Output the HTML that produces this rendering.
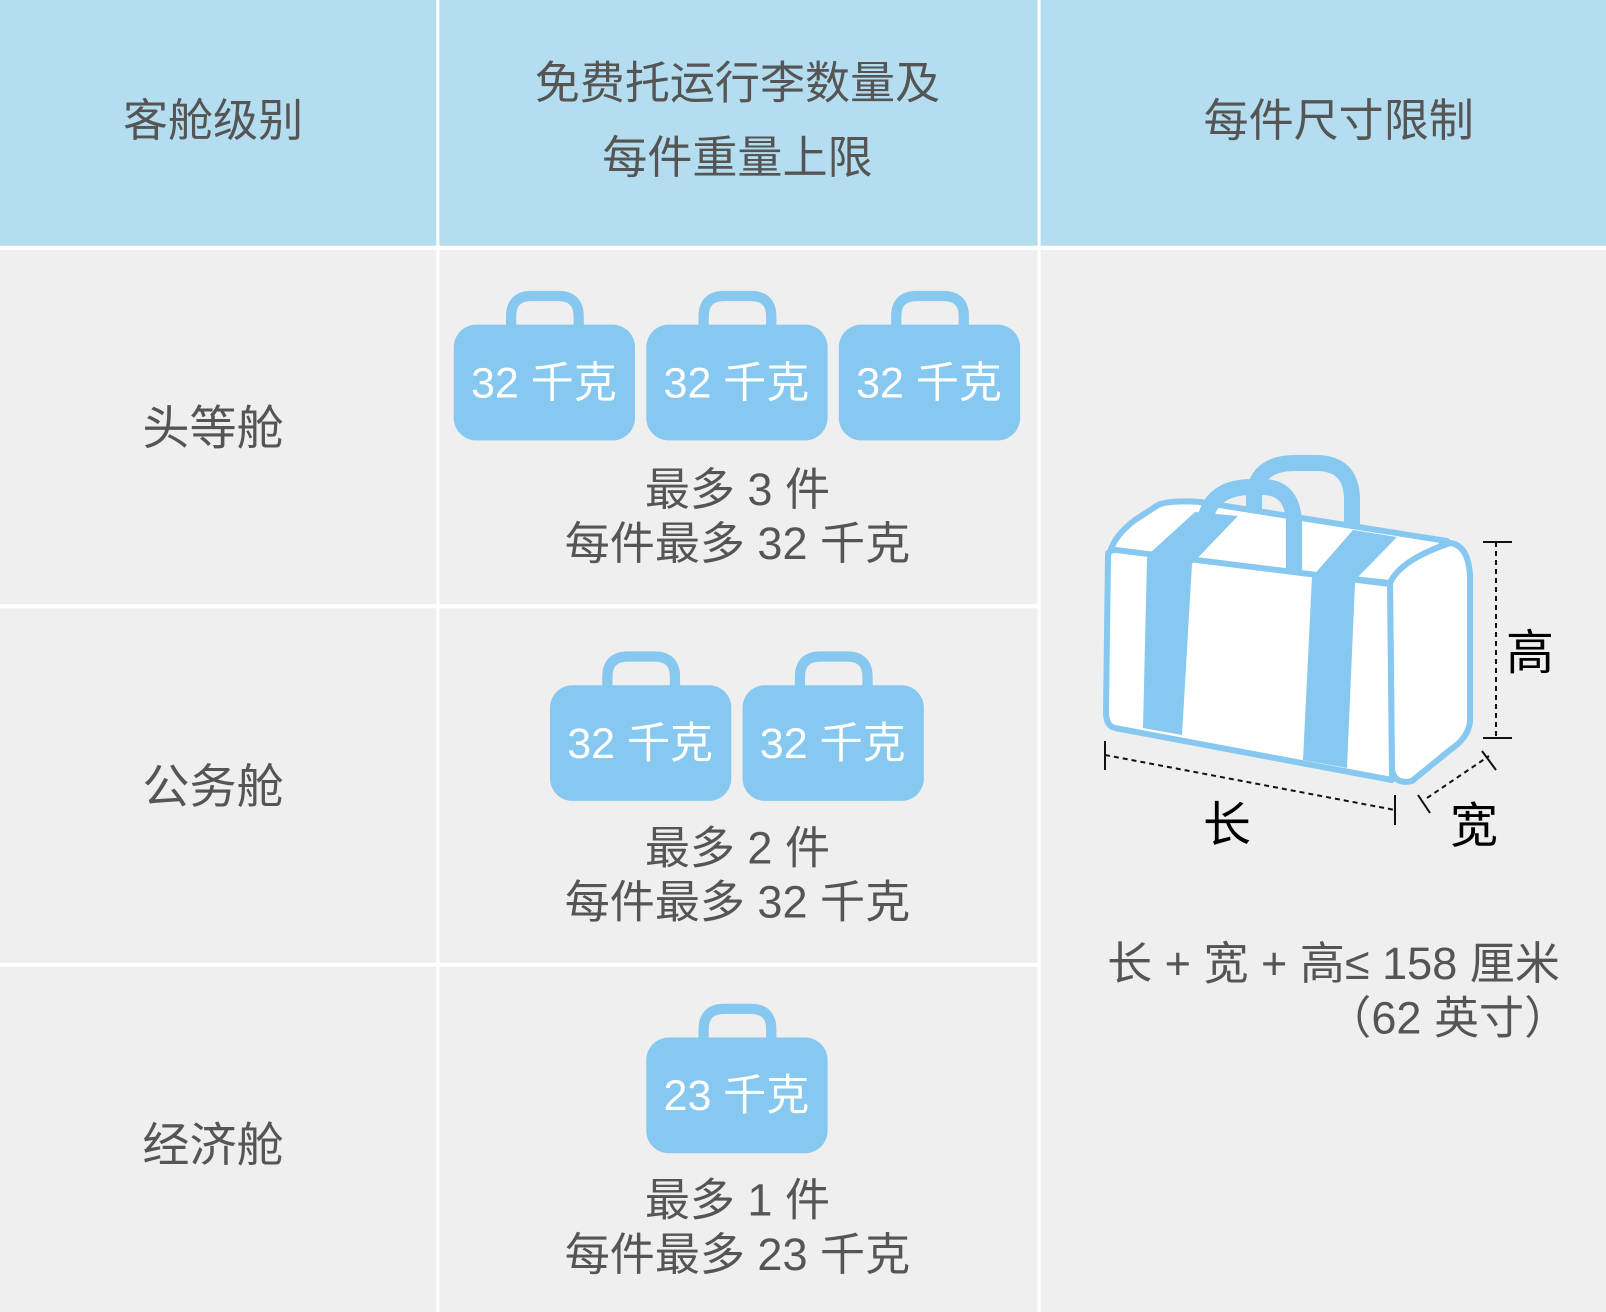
<!DOCTYPE html>
<html><head><meta charset="utf-8"><style>
html,body{margin:0;padding:0;background:#efefef;}
svg{display:block;}
text{font-family:"Liberation Sans","Noto Sans CJK SC",sans-serif;}
</style></head><body>
<svg width="1606" height="1312" viewBox="0 0 1568 1281" preserveAspectRatio="none" xmlns="http://www.w3.org/2000/svg">
<defs>
<g id="bag">
<path d="M56,40 V24 Q56,4 76,4 H102 Q122,4 122,24 V40" fill="none" stroke="#86c8ef" stroke-width="10"/>
<rect x="0" y="32" width="177" height="113" rx="22" fill="#86c8ef"/>
</g>
</defs>
<rect x="0" y="0" width="1568" height="1281" fill="#efefef"/>
<rect x="0" y="0" width="1568" height="240" fill="#b5ddf0"/>
<rect x="426" y="0" width="3" height="1281" fill="#fff"/>
<rect x="1013" y="0" width="3" height="1281" fill="#fff"/>
<rect x="0" y="240" width="1568" height="4" fill="#fff"/>
<rect x="0" y="590" width="1013" height="4" fill="#fff"/>
<rect x="0" y="940" width="1013" height="4" fill="#fff"/>

<g fill="#555" font-size="44" text-anchor="middle">
<text x="208" y="133">客舱级别</text>
<text x="720" y="96">免费托运行李数量及</text>
<text x="720" y="169">每件重量上限</text>
<text x="1307" y="133">每件尺寸限制</text>
<text x="208" y="434" font-size="46">头等舱</text>
<text x="208" y="784" font-size="46">公务舱</text>
<text x="208" y="1134" font-size="46">经济舱</text>
<text x="720" y="493">最多 3 件</text>
<text x="720" y="546">每件最多 32 千克</text>
<text x="720" y="843">最多 2 件</text>
<text x="720" y="896">每件最多 32 千克</text>
<text x="720" y="1187">最多 1 件</text>
<text x="720" y="1240">每件最多 23 千克</text>
</g>

<use href="#bag" x="443" y="285"/>
<use href="#bag" x="631" y="285"/>
<use href="#bag" x="819" y="285"/>
<use href="#bag" x="537" y="637"/>
<use href="#bag" x="725" y="637"/>
<use href="#bag" x="631" y="981"/>
<g fill="#fff" font-size="42" text-anchor="middle">
<text x="531" y="388">32 千克</text>
<text x="719" y="388">32 千克</text>
<text x="907" y="388">32 千克</text>
<text x="625" y="740">32 千克</text>
<text x="813" y="740">32 千克</text>
<text x="719" y="1084">23 千克</text>
</g>

<g fill="#555" font-size="44">
<text x="1523" y="956" text-anchor="end">长 + 宽 + 高≤ 158 厘米</text>
<text x="1532" y="1009" text-anchor="end">（62 英寸）</text>
</g>

<g transform="scale(0.97634 0.97637)">
<!-- back handle -->
<path d="M1254,522 V500 Q1254,463 1295,463 H1316 Q1352,463 1352,500 V532" fill="none" stroke="#86c8ef" stroke-width="16"/>
<!-- body -->
<g stroke="#86c8ef" stroke-width="6" stroke-linejoin="round" fill="#fff">
<path d="M1110,552 Q1115,535 1135,520 L1158,505 Q1170,500 1200,502 L1447,541 L1390,583 L1108,553 Z"/>
<path d="M1390,583 Q1400,560 1450,543 Q1468,545 1470,575 L1470,722 Q1468,738 1450,750 L1412,781 Q1395,785 1392,770 Z"/>
<path d="M1108,556 Q1108,550 1116,550 L1390,584 L1392,780 L1115,728 Q1106,726 1106,712 Z"/>
</g>
<g fill="#86c8ef">
<polygon points="1195,512 1238,516 1210,545 1192,564 1182,735 1143,728 1147,558 1150,553"/>
<polygon points="1353,530 1397,537 1358,577 1355,583 1347,768 1303,760 1312,577"/>
</g>
<!-- front handle -->
<path d="M1206,516 Q1214,487 1252,487 H1262 Q1294,487 1294,525 V570" fill="none" stroke="#86c8ef" stroke-width="16"/>
<!-- dimensions -->
<g stroke="#111" stroke-width="2" fill="none">
<line x1="1496" y1="542" x2="1496" y2="738" stroke-dasharray="5,4"/>
<line x1="1483" y1="542" x2="1512" y2="542"/>
<line x1="1483" y1="738" x2="1512" y2="738"/>
<line x1="1105" y1="755" x2="1395" y2="810" stroke-dasharray="5,4"/>
<line x1="1105" y1="741" x2="1105" y2="770"/>
<line x1="1395" y1="795" x2="1395" y2="825"/>
<line x1="1427" y1="798" x2="1489" y2="756" stroke-dasharray="5,4"/>
<line x1="1418" y1="795" x2="1430" y2="813"/>
<line x1="1482" y1="751" x2="1496" y2="770"/>
</g>
<g fill="#000" font-size="48" text-anchor="middle">
<text x="1530" y="669">高</text>
<text x="1227" y="841">长</text>
<text x="1474" y="842">宽</text>
</g>
</g>
</svg>
</body></html>
